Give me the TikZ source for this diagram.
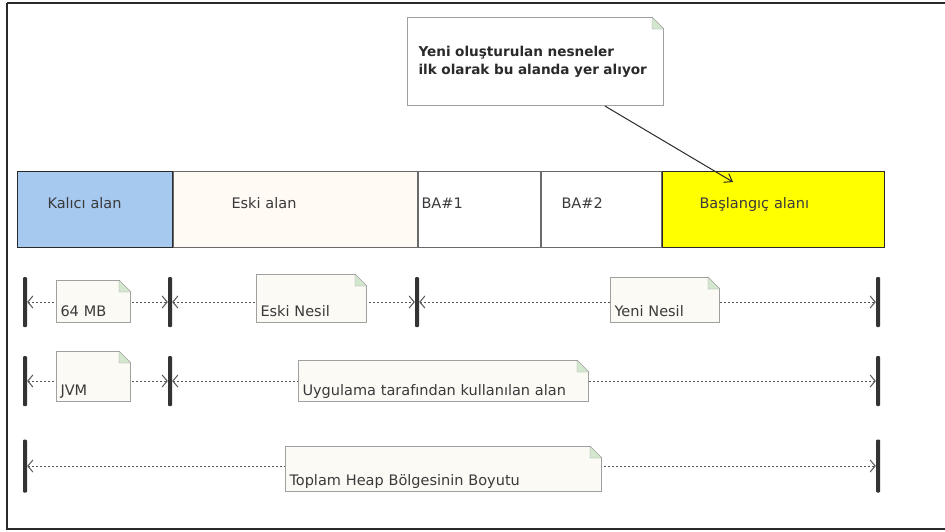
\documentclass[tikz,border=0pt]{standalone}
\usepackage{fontspec}
\setmainfont{DejaVu Sans}
\usetikzlibrary{
  arrows.meta,
  positioning,
  calc
}
\usepackage{xcolor}
\definecolor{kalblue}{HTML}{A6C9F0}
\definecolor{eskifill}{HTML}{FFFAF3}
\definecolor{basyellow}{HTML}{FFFF00}
\definecolor{boxgray}{HTML}{6A6A6A}
\definecolor{darkline}{HTML}{2A2A2A}
\definecolor{txtgray}{HTML}{3A3A3A}
\definecolor{notefill}{HTML}{FCFAF5}
\definecolor{notegray}{HTML}{A0A0A0}
\definecolor{foldgreen}{HTML}{D3E6CE}
\definecolor{tickgray}{HTML}{333333}
\definecolor{dimgray}{HTML}{555555}

\begin{document}
\begin{tikzpicture}[
  x=1pt, y=-1pt,
  region/.style={draw=boxgray, line width=1pt, minimum height=76pt, inner ysep=0pt,
    align=left, text height=10pt, text depth=13pt,
    font=\fontsize{14.5}{16}\selectfont, text=txtgray},
  note/.style={draw=notegray, fill=notefill, line width=1pt, anchor=south west,
    inner xsep=4pt, inner ysep=3pt, text depth=3pt, align=left,
    font=\fontsize{14.5}{16}\selectfont, text=txtgray},
  callout/.style={draw=notegray, fill=white, line width=1pt, anchor=north west,
    align=left, font=\fontsize{13.6}{18}\selectfont\bfseries, text=darkline},
  tick/.style={fill=tickgray, inner sep=0pt, minimum width=4pt, minimum height=50pt,
    rounded corners=1pt},
  dim/.style={draw=dimgray, line width=1pt, dash pattern=on 2pt off 2pt,
    {Straight Barb[length=5pt,width=12pt]}-{Straight Barb[length=5pt,width=12pt]}},
  pointer/.style={draw=darkline, line width=1pt, -{Straight Barb[length=7pt,width=10pt]}}
]
  \useasboundingbox (0,0) rectangle (945,531);
  \draw[darkline, line width=1.5pt] (7,3) -- (990,3) (7,3) -- (7,529) -- (990,529);

  % Heap regions
  \node[region, fill=kalblue, draw=darkline, anchor=north west,
    inner xsep=30pt, text width=95pt] (kalici) at (17,171) {Kalıcı alan};
  \node[region, fill=eskifill, right=0pt of kalici,
    inner xsep=58pt, text width=128pt] (eski) {Eski alan};
  \node[region, fill=white, right=0pt of eski,
    inner xsep=3pt, text width=116pt] (ba1) {BA\#1};
  \node[region, fill=white, right=0pt of ba1,
    inner xsep=20pt, text width=80pt] (ba2) {BA\#2};
  \node[region, fill=basyellow, draw=darkline, right=0pt of ba2,
    inner xsep=37pt, text width=148pt] (baslangic) {Başlangıç alanı};

  % Callout
  \node[callout, inner xsep=11pt, text width=234pt, minimum height=88pt]
    (yeninot) at (407,17) {Yeni oluşturulan nesneler\\ilk olarak bu alanda yer alıyor};
  \coordinate (hedef) at (733,182);
  \draw[pointer] ($(yeninot.south west)!0.77!(yeninot.south east)$) -- (hedef);

  % Ticks
  \node[tick] (t1a) at (25,302) {};
  \node[tick] (t1b) at (170,302) {};
  \node[tick] (t1c) at (417,302) {};
  \node[tick] (t1d) at (878,302) {};
  \node[tick] (t2a) at (25,381) {};
  \node[tick] (t2b) at (170,381) {};
  \node[tick] (t2c) at (878,381) {};
  \node[tick, minimum height=53pt] (t3a) at (25,466) {};
  \node[tick, minimum height=53pt] (t3b) at (878,466) {};

  % Dimension lines
  \draw[dim] (t1a) -- (t1b);
  \draw[dim] (t1b) -- (t1c);
  \draw[dim] (t1c) -- (t1d);
  \draw[dim] (t2a) -- (t2b);
  \draw[dim] (t2b) -- (t2c);
  \draw[dim] (t3a) -- (t3b);

  % Notes
  \node[note, text width=66pt, text height=33pt] (mb) at (56,323) {64 MB};
  \node[note, text width=102pt, text height=39pt] (eskinesil) at (256,323) {Eski Nesil};
  \node[note, text width=101pt, text height=36pt] (yeninesil) at (610,323) {Yeni Nesil};
  \node[note, text width=66pt, text height=41pt] (jvm) at (56,402) {JVM};
  \node[note, text width=282pt, text height=32pt] (uygulama) at (298,402)
    {Uygulama tarafından kullanılan alan};
  \node[note, text width=308pt, text height=36pt] (toplam) at (285,492)
    {Toplam Heap Bölgesinin Boyutu};

  % Folded corners
  \foreach \n in {yeninot,mb,eskinesil,yeninesil,jvm,uygulama,toplam} {
    \fill[white] ($(\n.north east)+(-13.5,-1.5)$) -- ++(15,0) -- ++(0,15) -- cycle;
    \filldraw[draw=notegray, fill=foldgreen, line join=round]
      ($(\n.north east)+(-12,0)$) -- ++(12,12) -- ++(-12,0) -- cycle;
    \draw[notegray, line width=1pt] ($(\n.north east)+(-12.5,0)$) -- ($(\n.north east)+(-12,0)$);
  }
\end{tikzpicture}
\end{document}
